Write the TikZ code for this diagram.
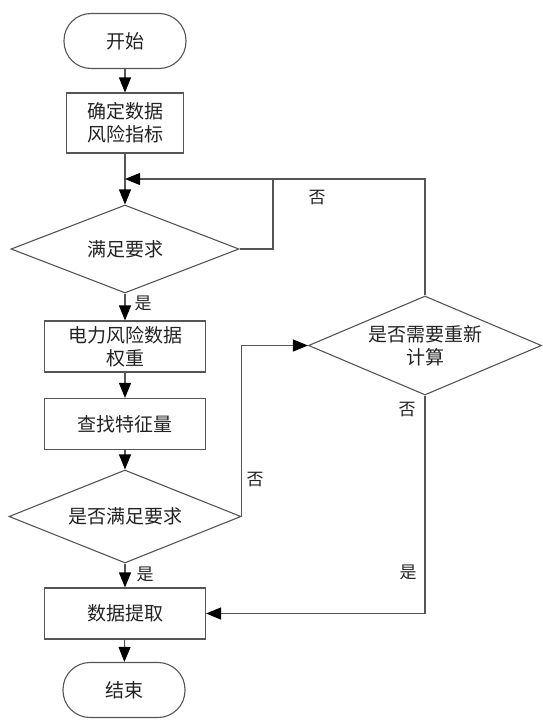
\documentclass[tikz,border=0pt]{standalone}
\usepackage{fontspec}
\newfontfamily\cjk{Noto Sans CJK SC}
\usetikzlibrary{shapes.geometric,arrows.meta}
\definecolor{linegray}{HTML}{555555}
\definecolor{txt}{HTML}{222222}
\begin{document}
\begin{tikzpicture}[x=1pt,y=-1pt,
  base/.style={draw=linegray, line width=1.1pt, inner sep=0pt, align=center,
    font=\cjk\fontsize{19}{23}\selectfont, text=txt},
  proc/.style={base, rectangle, minimum width=161pt, minimum height=51pt},
  term/.style={base, rectangle, rounded corners=27pt, minimum width=122pt, minimum height=55pt},
  dec/.style={base, diamond, aspect=2.4},
  conn/.style={draw=linegray, line width=1.1pt},
  arr/.style={conn, -{Triangle[length=15pt,width=12pt,color=black,fill=black]}},
  lbl/.style={font=\cjk\fontsize{17}{20}\selectfont, text=txt, inner sep=0pt}
]
\useasboundingbox (0,0) rectangle (543,720);
\node[term] (start) at (125,41) {开始};
\node[proc, minimum width=117pt, minimum height=60pt] (b1) at (125,123) {确定数据\\风险指标};
\node[dec, minimum width=228pt, minimum height=88pt] (d1) at (125,249) {满足要求};
\node[proc] (b2) at (125,346.5) {电力风险数据\\权重};
\node[proc] (b3) at (125,424) {查找特征量};
\node[dec, minimum width=232pt, minimum height=93pt] (d3) at (125,516.5) {是否满足要求};
\node[proc] (b4) at (125,613.5) {数据提取};
\node[term] (end) at (124,690) {结束};
\node[dec, minimum width=233pt, minimum height=99pt] (d2) at (425,345.5) {是否需要重新\\计算};
\coordinate (j) at (125,179);
\coordinate (r1) at (273,179);

\draw[arr] (start) -- (b1);
\draw[arr] (b1) -- (d1);
\draw[conn] (d1.east) -| (r1);
\draw[arr] (d2.north) |- (j);
\draw[arr] (d1) -- (b2);
\draw[arr] (b2) -- (b3);
\draw[arr] (b3) -- (d3);
\draw[arr] (d3) -- (b4);
\draw[arr] (b4) -- (end);
\draw[arr] (d3.east) |- (d2.west);
\draw[arr] (d2.south) |- (b4.east);

\node[lbl] (n1) at (317,198) {否};
\node[lbl] (y1) at (143,303) {是};
\node[lbl] (n2) at (255,480) {否};
\node[lbl] (y2) at (145,574) {是};
\node[lbl] (n3) at (407,410) {否};
\node[lbl] (y3) at (408,572) {是};
\end{tikzpicture}
\end{document}
